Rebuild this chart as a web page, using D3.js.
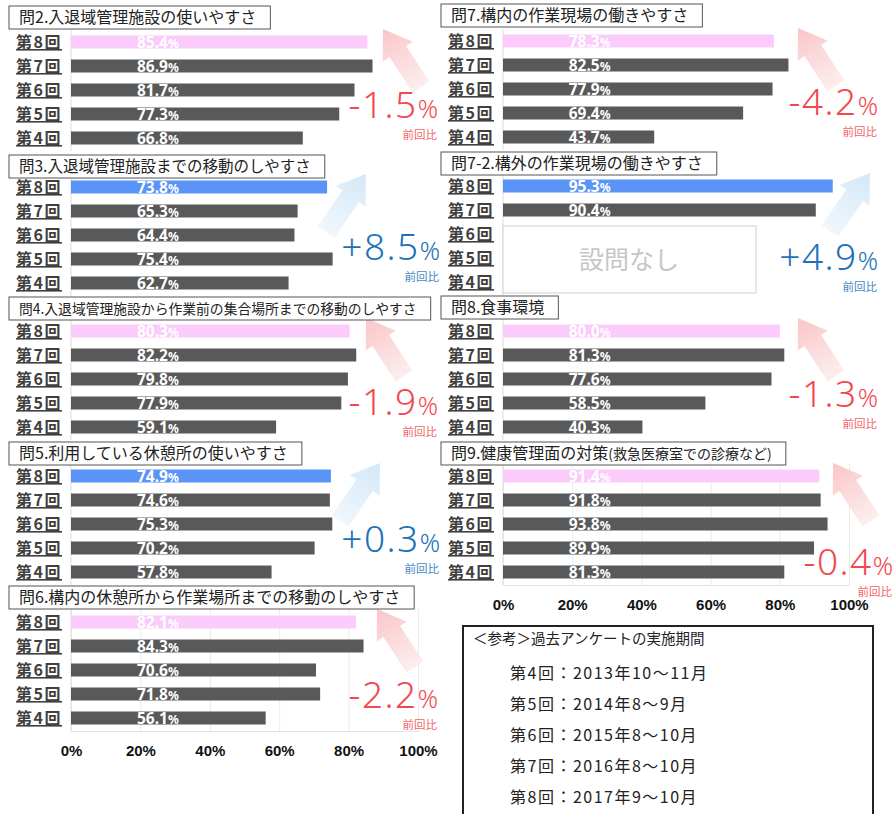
<!DOCTYPE html>
<html lang="ja">
<head>
<meta charset="UTF-8">
<title>アンケート結果</title>
<script src="https://d3js.org/d3.v7.min.js"></script>
<style>
  body { margin: 0; background: #fff; }
  svg { display: block; font-family: "Noto Sans CJK JP", "Noto Sans", sans-serif; }
</style>
</head>
<body>
<div id="chart"></div>
<script>
// data
const rounds = ["第8回", "第7回", "第6回", "第5回", "第4回"];
const titles = [
  "問2.入退域管理施設の使いやすさ",
  "問3.入退域管理施設までの移動のしやすさ",
  "問4.入退域管理施設から作業前の集合場所までの移動のしやすさ",
  "問5.利用している休憩所の使いやすさ",
  "問6.構内の休憩所から作業場所までの移動のしやすさ",
  "問7.構内の作業現場の働きやすさ",
  "問7-2.構外の作業現場の働きやすさ",
  "問8.食事環境",
  "問9.健康管理面の対策"
];
const titleNote = "(救急医療室での診療など)";
const q2 = [85.4, 86.9, 81.7, 77.3, 66.8];
const q3 = [73.8, 65.3, 64.4, 75.4, 62.7];
const q4 = [80.3, 82.2, 79.8, 77.9, 59.1];
const q5 = [74.9, 74.6, 75.3, 70.2, 57.8];
const q6 = [82.1, 84.3, 70.6, 71.8, 56.1];
const q7 = [78.3, 82.5, 77.9, 69.4, 43.7];
const q7b = [95.3, 90.4, null, null, null];
const q8 = [80.0, 81.3, 77.6, 58.5, 40.3];
const q9 = [91.4, 91.8, 93.8, 89.9, 81.3];
const values = [q2, q3, q4, q5, q6, q7, q7b, q8, q9];
const deltas = [-1.5, 8.5, -1.9, 0.3, -2.2, -4.2, 4.9, -1.3, -0.4];
const ticks = [0, 20, 40, 60, 80, 100];
const refTitle = "＜参考＞過去アンケートの実施期間";
const periods = [
  "第4回：2013年10～11月",
  "第5回：2014年8～9月",
  "第6回：2015年8～10月",
  "第7回：2016年8～10月",
  "第8回：2017年9～10月"
];

// layout (one entry per panel)
const col     = [0, 0, 0, 0, 0, 1, 1, 1, 1];
const titleY  = [6, 155, 297, 442, 586, 4, 152, 296, 442];
const titleFs = [16, 15.5, 13.8, 16, 16, 16, 16, 16, 16];
const row8    = [42, 187, 331, 476, 622, 41, 186, 331, 476];
const deltaDy = [76, 73, 84, 76, 86, 74, 84, 76, 99];
const deltaX  = [438, 440, 438, 440, 438, 878, 878, 878, 893];
const tipX    = [383, 366, 366, 380, 377, 798, 870, 798, 833];
const colX0 = [71, 503], colX1 = [418, 849];

const W = 894, H = 814;
const svg = d3.select("#chart").append("svg").attr("width", W).attr("height", H);
const defs = svg.append("defs");

function grad(id, c1, c2) {
  const g = defs.append("linearGradient").attr("id", id)
    .attr("x1", 0).attr("y1", 0).attr("x2", 1).attr("y2", 0);
  g.append("stop").attr("offset", "0%").attr("stop-color", c1);
  g.append("stop").attr("offset", "100%").attr("stop-color", c2);
}
grad("gRed", "#fdeeee", "#f9c6c8");
grad("gBlue", "#f0f7fd", "#d3e8f8");

const y = d3.scalePoint().domain(rounds).range([0, 96]);
const barH = 13;

values.forEach(function (vals, i) {
  const c = col[i];
  const x = d3.scaleLinear().domain([0, 100]).range([colX0[c], colX1[c]]);
  const g = svg.append("g").attr("transform", "translate(0," + row8[i] + ")");
  const neg = deltas[i] < 0;
  const hi = neg ? "#fbcbfb" : "#5b94f7";
  const txtCol = neg ? "#f2494f" : "#1b72b8";
  const bottom = (i === 4 || i === 8);

  // faint grid / axis line
  if (bottom) {
    g.append("g").attr("transform", "translate(0," + (96 + 13) + ")")
      .call(d3.axisBottom(x).tickValues(ticks).tickSize(-(96 + 26)).tickFormat(""))
      .call(s => s.select(".domain").attr("stroke", "#e2e2e2"))
      .call(s => s.selectAll(".tick line").attr("stroke", "#ececec"));
  }
  g.append("line").attr("x1", x(0)).attr("x2", x(0))
    .attr("y1", -12).attr("y2", 96 + 13).attr("stroke", "#dcdcdc");

  // arrow
  const tx = tipX[i], ty = -13;
  const dx = neg ? 38 : -40, dy = 58;
  const len = Math.sqrt(dx * dx + dy * dy);
  const ang = Math.atan2(-dy, -dx) * 180 / Math.PI;
  const hl = 27, hw = 18, sw = 10;
  g.append("path")
    .attr("d", "M0,0 L" + (-hl) + "," + (-hw) + " L" + (-hl) + "," + (-sw) +
      " L" + (-len) + "," + (-sw) + " L" + (-len) + "," + sw +
      " L" + (-hl) + "," + sw + " L" + (-hl) + "," + hw + " Z")
    .attr("transform", "translate(" + tx + "," + ty + ") rotate(" + ang + ")")
    .attr("fill", neg ? "url(#gRed)" : "url(#gBlue)");

  // title box
  const tg = svg.append("g");
  const tb = tg.append("rect").attr("x", colX0[c] - 62).attr("y", titleY[i])
    .attr("height", 23).attr("fill", "#fff").attr("stroke", "#555").attr("stroke-width", 1);
  const tt = tg.append("text").attr("x", colX0[c] - 52).attr("y", titleY[i] + 17)
    .attr("font-size", titleFs[i]).attr("fill", "#222").text(titles[i]);
  if (i === 8) tt.append("tspan").attr("font-size", 14).text(titleNote);
  tb.attr("width", tt.node().getComputedTextLength() + 24);

  // row labels
  g.selectAll(".rl").data(rounds).join("text")
    .attr("x", x(0) - 9).attr("y", d => y(d) + 6)
    .attr("text-anchor", "end").attr("font-size", 16).attr("font-weight", "bold")
    .attr("letter-spacing", 1.5)
    .attr("fill", "#404040").attr("text-decoration", "underline")
    .text(d => d);

  const rows = rounds.map((r, k) => ({ r: r, v: vals[k], k: k })).filter(d => d.v !== null);

  g.selectAll(".bar").data(rows).join("rect")
    .attr("x", x(0)).attr("y", d => y(d.r) - barH / 2)
    .attr("width", d => x(d.v) - x(0)).attr("height", barH)
    .attr("fill", d => d.k === 0 ? hi : "#595959");

  const vl = g.selectAll(".vl").data(rows).join("text")
    .attr("x", x(19)).attr("y", d => y(d.r) + 6)
    .attr("font-family", "'Noto Sans', sans-serif")
    .attr("font-size", 15.5).attr("font-weight", "bold").attr("fill", "#fff");
  vl.append("tspan").text(d => d.v.toFixed(1));
  vl.append("tspan").attr("font-size", 12).text("%");

  if (vals[2] === null) {
    g.append("rect").attr("x", x(0)).attr("y", 40).attr("width", 253).attr("height", 67)
      .attr("fill", "#fff").attr("stroke", "#cfcfcf");
    g.append("text").attr("x", x(0) + 126).attr("y", 83).attr("text-anchor", "middle")
      .attr("font-size", 25).attr("fill", "#c6c6c6").text("設問なし");
  }

  // change vs previous
  const dt = g.append("text").attr("x", deltaX[i]).attr("y", deltaDy[i])
    .attr("text-anchor", "end").attr("fill", txtCol).attr("font-weight", 300)
    .attr("font-family", "'Noto Sans', sans-serif");
  dt.append("tspan").attr("font-size", 37).attr("letter-spacing", 1.5)
    .text((neg ? "-" : "+") + Math.abs(deltas[i]).toFixed(1));
  dt.append("tspan").attr("font-size", 25).text("%");
  g.append("text").attr("x", deltaX[i] - 1).attr("y", deltaDy[i] + 21)
    .attr("text-anchor", "end").attr("font-size", 11.5).attr("fill", txtCol)
    .attr("opacity", 0.85).text("前回比");

  if (bottom) {
    g.append("g").attr("transform", "translate(0," + (96 + 13) + ")")
      .call(d3.axisBottom(x).tickValues(ticks).tickSize(0).tickPadding(14).tickFormat(d => d + "%"))
      .call(s => s.select(".domain").remove())
      .call(s => s.selectAll("text").attr("font-size", 15).attr("font-weight", "bold")
        .attr("fill", "#111").attr("font-family", "'Liberation Sans', sans-serif"));
  }
});

// reference box
const rb = svg.append("g");
rb.append("rect").attr("x", 463).attr("y", 626).attr("width", 410).attr("height", 200)
  .attr("fill", "#fff").attr("stroke", "#222").attr("stroke-width", 2);
rb.append("text").attr("x", 473).attr("y", 644).attr("font-size", 14.5).attr("fill", "#222").text(refTitle);
const py = d3.scalePoint().domain(periods).range([679, 803]);
rb.selectAll(".p").data(periods).join("text")
  .attr("x", 510).attr("y", d => py(d)).attr("font-size", 16).attr("letter-spacing", 1.5)
  .attr("fill", "#222").text(d => d);
</script>
</body>
</html>
